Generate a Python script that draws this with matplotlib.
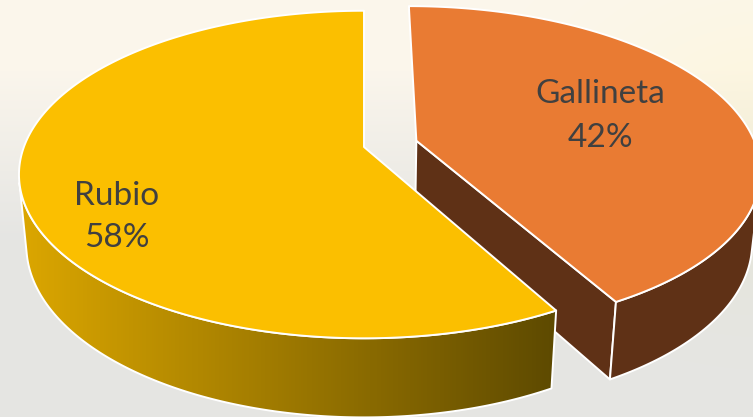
import numpy as np
import matplotlib.pyplot as plt
from matplotlib.patches import Polygon

# pie data
labels = ["Gallineta", "Rubio"]
shares = [42, 58]
top_colors = ["#E97B33", "#FBBF00"]
wall_colors = ["#5F3116", "#5F3116"]
explode = [0.16, 0.0]

# Rubio wall is shaded left to right
wall_grad = [(220, 167, 0), (94, 74, 0)]

# label placement (pixels): x centre, name baseline, value baseline
label_pos = {"Gallineta": (600, 103, 147), "Rubio": (117, 205, 247)}

# 3d camera set-up
ELEV = np.radians(27.9)
DIST = 5.26
FOCAL = 1789.0
HEIGHT = 0.238
ORIGIN = (364.0, 147.0)
SIN, COS = np.sin(ELEV), np.cos(ELEV)
CAM = np.array([0.0, -DIST * COS, DIST * SIN])


def project(X, Y, Z):
    X, Y, Z = np.asarray(X, float), np.asarray(Y, float), np.asarray(Z, float)
    yc = Y * SIN + Z * COS
    zc = DIST + Y * COS - Z * SIN
    return ORIGIN[0] + FOCAL * X / zc, ORIGIN[1] - FOCAL * yc / zc


def pts(X, Y, Z):
    px, py = project(X, Y, Z)
    return np.column_stack([np.atleast_1d(px), np.atleast_1d(py)])


W, H = 753, 417
fig = plt.figure(figsize=(W / 100, H / 100), dpi=100)
ax = fig.add_axes([0, 0, 1, 1])
ax.axis("off")

# washed-out sky / sea backdrop
yy, xx = np.mgrid[0:H, 0:W]
t = np.clip((yy - 70) / 170.0, 0, 1)[..., None]
sky = np.array([251, 246, 236])
sea = np.array([229, 229, 227])
bg = sky * (1 - t) + sea * t
glow = np.exp(-((xx - 770) ** 2 / (2 * 130.0 ** 2) + (yy - 140) ** 2 / (2 * 100.0 ** 2)))
bg = bg + glow[..., None] * np.array([2, 0, -14])
ax.imshow(np.clip(bg, 0, 255).astype(np.uint8), extent=[0, W, H, 0], zorder=0)

edge = dict(edgecolor="white", linewidth=1.4, joinstyle="round")

start = 0.0
z = 1
for i, (name, share) in enumerate(zip(labels, shares)):
    a0 = start
    a1 = start + share / 100.0 * 2 * np.pi
    start = a1
    mid = (a0 + a1) / 2
    cx, cy = explode[i] * np.sin(mid), explode[i] * np.cos(mid)

    # cut faces along both radii (skip the ones seen edge-on)
    for a, nrm in [(a0, (-np.cos(a0), np.sin(a0))), (a1, (np.cos(a1), -np.sin(a1)))]:
        mx, my = cx + 0.5 * np.sin(a), cy + 0.5 * np.cos(a)
        view = CAM - np.array([mx, my, -HEIGHT / 2])
        facing = (nrm[0] * view[0] + nrm[1] * view[1]) / np.linalg.norm(view)
        if facing > 0.05:
            ex, ey = cx + np.sin(a), cy + np.cos(a)
            quad = np.vstack([pts(cx, cy, 0), pts(ex, ey, 0),
                              pts(ex, ey, -HEIGHT), pts(cx, cy, -HEIGHT)])
            ax.add_patch(Polygon(quad, closed=True, facecolor=wall_colors[i], zorder=z, **edge))
            z += 1

    # outer wall, front-facing part only
    phi = np.linspace(a0, a1, 600)
    X, Y = cx + np.sin(phi), cy + np.cos(phi)
    vis = np.sin(phi) * (CAM[0] - X) + np.cos(phi) * (CAM[1] - Y) > 0
    if vis.any():
        ph = phi[vis]
        Xv, Yv = cx + np.sin(ph), cy + np.cos(ph)
        wall = np.vstack([pts(Xv, Yv, 0 * Xv), pts(Xv, Yv, 0 * Xv - HEIGHT)[::-1]])
        if name == "Rubio":
            poly = Polygon(wall, closed=True, facecolor="none", zorder=z + 1, **edge)
            ax.add_patch(poly)
            x0, x1 = wall[:, 0].min(), wall[:, 0].max()
            ramp = np.linspace(0, 1, 256)[None, :, None]
            c0, c1 = np.array(wall_grad[0]), np.array(wall_grad[1])
            img = (c0 * (1 - ramp) + c1 * ramp).astype(np.uint8)
            im = ax.imshow(img, extent=[x0, x1, wall[:, 1].max(), wall[:, 1].min()],
                           aspect="auto", zorder=z, interpolation="bilinear")
            im.set_clip_path(poly)
            z += 2
        else:
            ax.add_patch(Polygon(wall, closed=True, facecolor=wall_colors[i], zorder=z, **edge))
            z += 1

    # top face
    top = np.vstack([pts(cx, cy, 0), pts(X, Y, 0 * X)])
    ax.add_patch(Polygon(top, closed=True, facecolor=top_colors[i], zorder=z, **edge))
    z += 1

ax.set_xlim(0, W)
ax.set_ylim(H, 0)

for name, share in zip(labels, shares):
    lx, ly1, ly2 = label_pos[name]
    ax.text(lx, ly1, name, ha="center", va="baseline", fontsize=24,
            family="Lato", color="#404040", zorder=50)
    ax.text(lx, ly2, f"{share}%", ha="center", va="baseline", fontsize=24,
            family="Lato", color="#404040", zorder=50)

fig.savefig("out.png", dpi=100)
